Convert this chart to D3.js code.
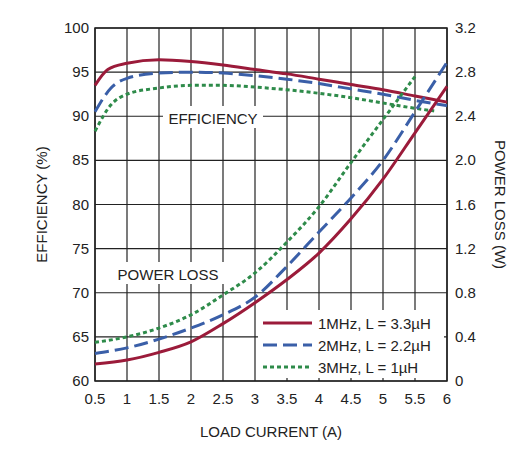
<!DOCTYPE html>
<html><head><meta charset="utf-8">
<script src="https://cdn.jsdelivr.net/npm/d3@7"></script>
<style>body{margin:0;background:#fff}text{font-family:"Liberation Sans",Arial,sans-serif;fill:#222}</style>
</head><body><svg id="c" width="531" height="455"></svg>
<script>
const xTicks = [0.5,1,1.5,2,2.5,3,3.5,4,4.5,5,5.5,6];
const yTicks = [60,65,70,75,80,85,90,95,100];
const y2Ticks = [0,0.4,0.8,1.2,1.6,2.0,2.4,2.8,3.2];

const eff1X = [0.5,0.7,1,1.5,2,2.5,3,3.5,4,4.5,5,5.5,6];
const eff1 = [93.5,95.3,96,96.4,96.2,95.8,95.3,94.8,94.2,93.6,93,92.3,91.6];
const eff2X = [0.5,0.75,1,1.5,2,2.5,3,3.5,4,4.5,5,5.5,6];
const eff2 = [90.5,93.2,94.3,94.9,95,94.9,94.6,94.2,93.7,93.1,92.5,91.8,91.2];
const eff3X = [0.5,0.75,1,1.5,2,2.5,3,3.5,4,4.5,5,5.5,5.8];
const eff3 = [88.3,91.3,92.5,93.2,93.5,93.5,93.3,93,92.6,92.1,91.5,90.9,90.6];
const lossX = [0.5,1,1.5,2,2.5,3,3.5,4,4.5,5,5.5,6];
const loss1 = [0.155,0.19,0.26,0.355,0.52,0.71,0.92,1.16,1.47,1.83,2.25,2.67];
const loss2 = [0.25,0.3,0.38,0.48,0.6,0.76,1.04,1.35,1.66,2.0,2.44,2.89];
const loss3X = [0.5,1,1.5,2,2.5,3,3.5,4,4.5,5,5.5];
const loss3 = [0.35,0.4,0.48,0.6,0.78,0.98,1.26,1.58,1.98,2.37,2.76];

const series = [
  {name:"1MHz, L = 3.3µH", color:"#9b1b3a", dash:null},
  {name:"2MHz, L = 2.2µH", color:"#3a5fa8", dash:"14,6"},
  {name:"3MHz, L = 1µH", color:"#2e8b4a", dash:"4,3"}
];

const svg = d3.select("#c");
const L=95,R=447,T=28,B=381;
const x = d3.scaleLinear().domain([0.5,6]).range([L,R]);
const y = d3.scaleLinear().domain([60,100]).range([B,T]);
const y2 = d3.scaleLinear().domain([0,3.2]).range([B,T]);

// grid
svg.append("g").selectAll("line").data(xTicks).enter().append("line")
  .attr("x1",d=>x(d)).attr("x2",d=>x(d)).attr("y1",T).attr("y2",B)
  .attr("stroke","#222").attr("stroke-width",1.2);
svg.append("g").selectAll("line").data(yTicks).enter().append("line")
  .attr("y1",d=>y(d)).attr("y2",d=>y(d)).attr("x1",L).attr("x2",R)
  .attr("stroke","#222").attr("stroke-width",1.2);
svg.append("rect").attr("x",L).attr("y",T).attr("width",R-L).attr("height",B-T)
  .attr("fill","none").attr("stroke","#222").attr("stroke-width",1.5);

// label backgrounds
svg.append("rect").attr("x",163).attr("y",106).attr("width",100).attr("height",22).attr("fill","#fff");
svg.append("rect").attr("x",112).attr("y",262).attr("width",112).attr("height",22).attr("fill","#fff");
svg.append("rect").attr("x",258).attr("y",310).attr("width",186).attr("height",68).attr("fill","#fff");

const line = d3.line().curve(d3.curveMonotoneX);
const draw = (xs, ys, sc, s) => svg.append("path")
  .attr("d", line(xs.map((v,i)=>[x(v), sc(ys[i])])))
  .attr("fill","none").attr("stroke",s.color).attr("stroke-width",3)
  .attr("stroke-dasharray",s.dash);

draw(eff3X,eff3,y,series[2]); draw(eff2X,eff2,y,series[1]); draw(eff1X,eff1,y,series[0]);
draw(loss3X,loss3,y2,series[2]); draw(lossX,loss2,y2,series[1]); draw(lossX,loss1,y2,series[0]);

svg.append("text").attr("x",213).attr("y",124).attr("text-anchor","middle").attr("font-size",15).text("EFFICIENCY");
svg.append("text").attr("x",168).attr("y",280).attr("text-anchor","middle").attr("font-size",15).text("POWER LOSS");

// legend
series.forEach((s,i)=>{
  const yy = 323 + i*22;
  svg.append("line").attr("x1",263).attr("x2",312).attr("y1",yy).attr("y2",yy)
    .attr("stroke",s.color).attr("stroke-width",3).attr("stroke-dasharray",s.dash);
  svg.append("text").attr("x",318).attr("y",yy+6).attr("font-size",15).text(s.name);
});

// tick labels
svg.append("g").selectAll("text").data(xTicks).enter().append("text")
  .attr("x",d=>x(d)).attr("y",B+23).attr("text-anchor","middle").attr("font-size",15).text(d=>d);
svg.append("g").selectAll("text").data(yTicks).enter().append("text")
  .attr("x",L-6).attr("y",d=>y(d)+5).attr("text-anchor","end").attr("font-size",15).text(d=>d);
svg.append("g").selectAll("text").data(y2Ticks).enter().append("text")
  .attr("x",R+8).attr("y",d=>y2(d)+5).attr("font-size",15).text(d=>d3.format(".1f")(d).replace(/^0\.0$/,"0"));

svg.append("text").attr("x",(L+R)/2).attr("y",437).attr("text-anchor","middle").attr("font-size",15).text("LOAD CURRENT (A)");
svg.append("text").attr("transform",`translate(47,${(T+B)/2}) rotate(-90)`).attr("text-anchor","middle").attr("font-size",15).text("EFFICIENCY (%)");
svg.append("text").attr("transform",`translate(495,${(T+B)/2}) rotate(90)`).attr("text-anchor","middle").attr("font-size",15).text("POWER LOSS (W)");
</script></body></html>
